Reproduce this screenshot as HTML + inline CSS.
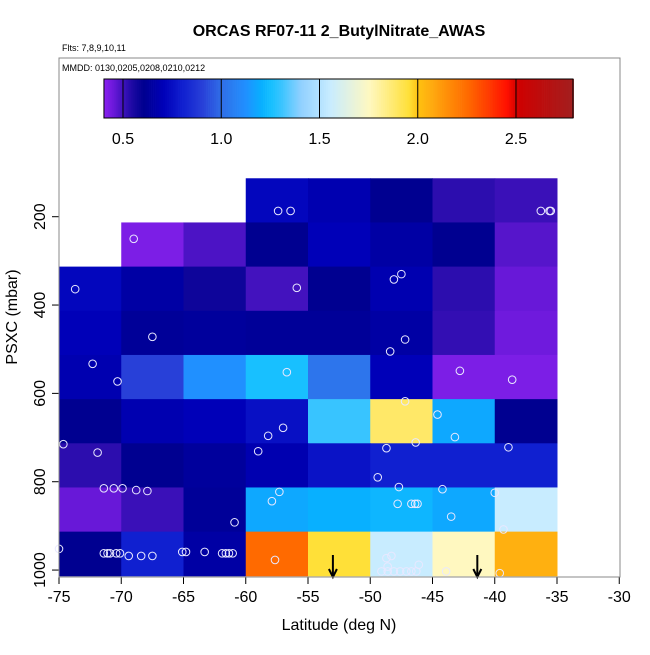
<!DOCTYPE html>
<html><head><meta charset="utf-8"><style>
body{margin:0;background:#fff;width:650px;height:650px;overflow:hidden}
svg text{font-family:"Liberation Sans",sans-serif}
</style></head><body>
<svg id="c" width="650" height="650" viewBox="0 0 650 650">
<text x="339" y="36" text-anchor="middle" font-size="16" font-weight="bold">ORCAS RF07-11 2_ButylNitrate_AWAS</text>
<text x="62" y="51" font-size="9">Flts: 7,8,9,10,11</text>
<text x="62" y="71" font-size="9">MMDD: 0130,0205,0208,0210,0212</text>
<text transform="translate(17,317) rotate(-90)" text-anchor="middle" font-size="16">PSXC (mbar)</text>
<text x="339" y="630" text-anchor="middle" font-size="16">Latitude (deg N)</text>
<g id="cells"></g><g id="pts"></g><g id="bar"></g><g id="axes"></g>
<rect x="59" y="58" width="561" height="519" fill="none" stroke="#888" stroke-width="1"/>
</svg>
<script>
const latEdges=[-75,-70,-65,-60,-55,-50,-45,-40,-35];
const presEdges=[113,213,313,413,513,613,713,813,913,1013];
const cellValues=[
[null,null,null,0.72,0.68,0.6,0.52,0.5],
[null,0.42,0.48,0.6,0.7,0.65,0.6,0.47],
[0.72,0.65,0.57,0.49,0.6,0.68,0.52,0.45],
[0.7,0.62,0.63,0.62,0.62,0.65,0.51,0.44],
[0.68,0.9,1.12,1.25,1.02,0.7,0.42,0.42],
[0.6,0.68,0.7,0.75,1.3,1.88,1.18,0.6],
[0.52,0.6,0.63,0.68,0.76,0.8,0.8,0.8],
[0.45,0.5,0.62,1.18,1.2,1.22,1.18,1.55],
[0.6,0.8,0.65,2.25,1.95,1.55,1.75,2.05]];
const pointLat=[-57.4,-56.4,-36.3,-35.6,-35.5,-69.0,-73.7,-55.9,-48.1,-47.5,-67.5,-47.2,-48.4,-72.3,-70.3,-56.7,-42.8,-38.6,-47.2,-44.6,-43.2,-57.0,-58.2,-74.65,-46.35,-48.7,-38.9,-71.9,-59.0,-49.4,-47.7,-44.2,-40.0,-71.4,-70.6,-69.9,-68.8,-67.9,-57.3,-57.9,-47.8,-46.7,-46.4,-46.2,-43.5,-60.9,-39.3,-75.0,-71.4,-71.1,-70.9,-70.4,-70.1,-69.4,-68.4,-67.5,-65.1,-64.8,-63.3,-61.9,-61.6,-61.35,-61.05,-57.65,-48.7,-48.3,-48.6,-49.1,-48.6,-48.1,-47.6,-47.1,-46.7,-46.3,-46.1,-43.9,-39.6];
const pointPres=[187,187,187,187,187,250,364,361,342,330,472,478,505,533,573,552,549,569,618,648,699,678,696,715,711,724,722,734,731,790,812,817,825,815,815,815,819,821,823,844,850,850,850,850,879,892,908,952,962,962,962,962,962,968,968,968,959,959,959,962,962,962,962,977,973,968,992,1003,1003,1003,1003,1003,1003,1003,988,1003,1007];
const arrowLat=[-53.0,-41.4];
const xTicks=[-75,-70,-65,-60,-55,-50,-45,-40,-35,-30];
const yTicks=[200,400,600,800,1000];
const barTicks=[0.5,1.0,1.5,2.0,2.5];
const NS='http://www.w3.org/2000/svg';
const X=v=>59+(v+75)*12.45;
const Y=p=>216.7+(p-200)*0.4417;
const BX=v=>123+(v-0.5)*196.5;
const stops=[[0.40,'#8a22f0'],[0.45,'#6818d8'],[0.5,'#3a10b8'],[0.55,'#1808a0'],[0.6,'#000090'],[0.7,'#0000b8'],[0.8,'#1020d0'],[0.9,'#2840d8'],[1.0,'#3070e8'],[1.12,'#2090ff'],[1.2,'#08b0ff'],[1.25,'#18c0ff'],[1.3,'#38c4ff'],[1.4,'#90d0ff'],[1.55,'#c8ecff'],[1.75,'#fff8c0'],[1.88,'#ffe868'],[1.95,'#ffe038'],[2.0,'#ffc010'],[2.05,'#ffb010'],[2.25,'#ff6a00'],[2.45,'#ff1000'],[2.5,'#d00000'],[2.8,'#a02020']];
function hex(h){return [1,3,5].map(i=>parseInt(h.substr(i,2),16));}
function cmap(v){
 if(v<=stops[0][0])return stops[0][1];
 for(let i=1;i<stops.length;i++){if(v<=stops[i][0]){const a=hex(stops[i-1][1]),b=hex(stops[i][1]);const t=(v-stops[i-1][0])/(stops[i][0]-stops[i-1][0]);return 'rgb('+a.map((x,k)=>Math.round(x+(b[k]-x)*t)).join(',')+')';}}
 return stops[stops.length-1][1];}
function mk(tag,attrs,parent){const e=document.createElementNS(NS,tag);for(const k in attrs)e.setAttribute(k,attrs[k]);parent.appendChild(e);return e;}
const cells=document.getElementById('cells');
cellValues.forEach((row,r)=>row.forEach((v,c)=>{if(v===null)return;
 const x0=X(latEdges[c]),x1=X(latEdges[c+1]),y0=Y(presEdges[r]),y1=Y(presEdges[r+1]);
 const e=mk('rect',{x:x0,y:y0,width:x1-x0+0.5,height:y1-y0+0.5,fill:cmap(v)},cells);
 
 }));
const pts=document.getElementById('pts');
pointLat.forEach((la,i)=>{const e=mk('circle',{cx:X(la),cy:Y(pointPres[i]),r:3.8,fill:'none',stroke:'#e8e8ff','stroke-width':1},pts);
 
 });
arrowLat.forEach(la=>{const g=mk('g',{},pts);
 
 
 const x=X(la);mk('line',{x1:x,y1:555,x2:x,y2:576,stroke:'#000','stroke-width':2},g);
 mk('path',{d:`M${x-4},569 L${x},577 L${x+4},569`,fill:'none',stroke:'#000','stroke-width':2},g);});
const bar=document.getElementById('bar');
for(let v=0.403;v<2.79;v+=0.01){const e=mk('rect',{x:BX(v),y:79,width:2.3,height:39,fill:cmap(v)},bar);
 
 }
const bf=mk('rect',{x:BX(0.403),y:79,width:BX(2.79)-BX(0.403),height:39,fill:'none',stroke:'#000','stroke-width':1},bar);


barTicks.forEach(v=>{mk('line',{x1:BX(v),y1:79,x2:BX(v),y2:118,stroke:'#000','stroke-width':1},bar);
 const t=mk('text',{x:BX(v),y:144,'text-anchor':'middle','font-size':16},bar);t.textContent=v.toFixed(1);
 
 });
const ax=document.getElementById('axes');
mk('line',{x1:59,y1:577,x2:620,y2:577,stroke:'#000'},ax);
xTicks.forEach(v=>{mk('line',{x1:X(v),y1:577,x2:X(v),y2:584,stroke:'#000'},ax);
 const t=mk('text',{x:X(v),y:602,'text-anchor':'middle','font-size':16},ax);t.textContent=v;
 
 });
yTicks.forEach(v=>{mk('line',{x1:52,y1:Y(v),x2:59,y2:Y(v),stroke:'#000'},ax);
 const t=mk('text',{transform:`translate(45,${Y(v)}) rotate(-90)`,'text-anchor':'middle','font-size':16},ax);t.textContent=v;
 
 });
</script>
</body></html>
